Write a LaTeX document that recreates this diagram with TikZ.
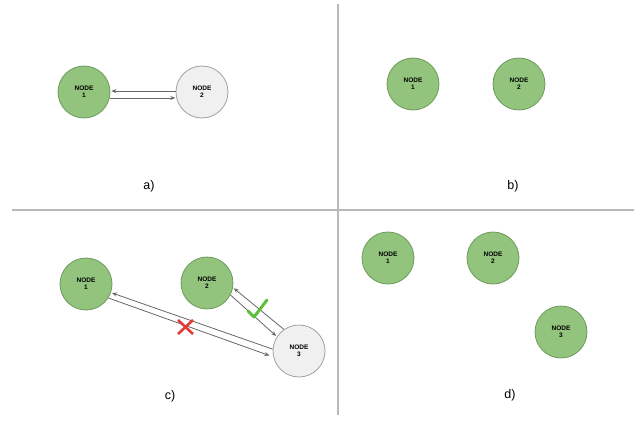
\documentclass[tikz,border=0pt]{standalone}
\usepackage{fontspec}
\setmainfont{Liberation Sans}
\usetikzlibrary{arrows.meta}
\definecolor{nodegreen}{HTML}{93C47D}
\definecolor{nodegreenline}{HTML}{6E9A5C}
\definecolor{nodegray}{HTML}{F0F0F0}
\definecolor{nodegrayline}{HTML}{A0A0A0}
\definecolor{linkgray}{HTML}{666666}
\definecolor{splitgray}{HTML}{B8B8B8}
\definecolor{okgreen}{HTML}{5CBF3A}
\definecolor{badred}{HTML}{E53935}
\begin{document}
\begin{tikzpicture}[x=1pt,y=-1pt,
  >={Stealth[length=5pt,width=4pt]},
  peer/.style={circle,minimum size=52pt,inner sep=0pt,line width=0.8pt,align=center,
    font=\bfseries\fontsize{6.5}{7}\selectfont},
  alive/.style={peer,fill=nodegreen,draw=nodegreenline},
  fresh/.style={peer,fill=nodegray,draw=nodegrayline},
  link/.style={->,draw=linkgray,line width=0.8pt,shorten >=1pt},
  caption/.style={font=\fontsize{12.5}{14}\selectfont}]
\useasboundingbox (0,0) rectangle (638,423);
\draw [splitgray,line width=1.4pt] (12,210) -- (634,210);
\draw [splitgray,line width=1.4pt] (338,4) -- (338,415);
\node (a1) [alive] at (84,92) {NODE\\1};
\node (a2) [fresh] at (202,92) {NODE\\2};
\draw [link] (a2.178) -- (a1.2);
\draw [link] (a1.-13) -- (a2.-167);
\node (acap) [caption] at (149,186) {a)};
\node (b1) [alive] at (413,84) {NODE\\1};
\node (b2) [alive] at (519,84) {NODE\\2};
\node (bcap) [caption] at (513,186) {b)};
\node (c1) [alive] at (86,284) {NODE\\1};
\node (c2) [alive] at (207,283) {NODE\\2};
\node (c3) [fresh] at (299,351) {NODE\\3};
\draw [link] (c3.176) -- (c1.-19);
\draw [link,shorten >=4pt] (c1.-32) -- (c3.193);
\draw [link] (c3.125) -- (c2.-10);
\draw [link] (c2.-27) -- (c3.147);
\draw [badred,line width=2.6pt] (178,320) -- (193,334) (178,334) -- (193,320);
\draw [okgreen,line width=3pt,line cap=round,line join=round] (248,311) -- (254,317) -- (267,300);
\node (ccap) [caption] at (170,396) {c)};
\node (d1) [alive] at (388,258) {NODE\\1};
\node (d2) [alive] at (493,258) {NODE\\2};
\node (d3) [alive] at (561,332) {NODE\\3};
\node (dcap) [caption] at (510,395) {d)};
\end{tikzpicture}
\end{document}
